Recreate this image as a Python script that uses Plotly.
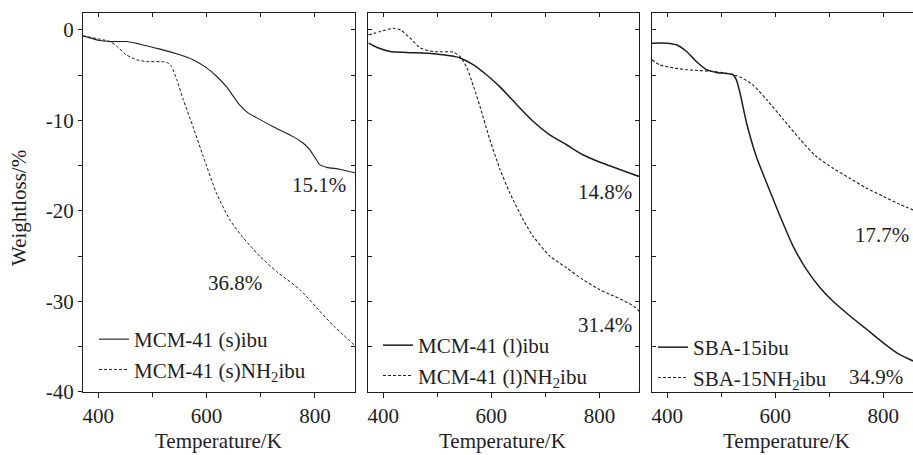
import plotly.graph_objects as go

# ---------------- data ----------------
p1_ibu_T = [372, 403, 421, 452, 477, 514, 551, 575, 600, 618, 637, 661, 677, 692, 723, 760, 778, 790, 800, 809, 822, 846, 874]
p1_ibu_W = [-0.66, -1.18, -1.29, -1.29, -1.58, -2.13, -2.76, -3.3, -4.2, -5.1, -6.3, -8.3, -9.2, -9.7, -10.7, -11.8, -12.5, -13.2, -14.1, -14.9, -15.2, -15.4, -15.8]
p1_nh2_T = [372, 403, 422, 435, 452, 471, 489, 526, 535, 545, 557, 575, 594, 618, 643, 668, 698, 729, 772, 809, 834, 874]
p1_nh2_W = [-0.66, -1.03, -1.29, -1.84, -2.76, -3.3, -3.5, -3.57, -4.0, -5.5, -7.7, -10.7, -14.0, -18.0, -21.0, -23.0, -25.0, -26.7, -28.7, -31.1, -32.7, -34.9]

p2_ibu_T = [373, 389, 413, 444, 493, 524, 542, 567, 591, 616, 647, 677, 708, 739, 769, 800, 873]
p2_ibu_W = [-1.47, -1.95, -2.39, -2.5, -2.65, -2.87, -3.1, -3.86, -4.96, -6.3, -8.27, -10.1, -11.6, -12.7, -13.8, -14.6, -16.2]
p2_nh2_T = [373, 395, 420, 432, 450, 469, 493, 530, 542, 555, 567, 579, 597, 616, 634, 659, 677, 708, 739, 769, 800, 873, 873.5]
p2_nh2_W = [-0.55, -0.18, 0.18, 0.0, -0.92, -2.0, -2.4, -2.46, -2.94, -4.2, -6.25, -8.46, -12.1, -15.4, -18.0, -21.0, -22.8, -25.0, -26.3, -27.6, -28.7, -31.1, -40.0]

p3_ibu_T = [372, 399, 417, 436, 454, 473, 491, 522, 528, 535, 547, 565, 584, 609, 633, 658, 683, 707, 738, 769, 800, 825, 855]
p3_ibu_W = [-1.47, -1.47, -1.65, -2.39, -3.5, -4.4, -4.7, -4.96, -5.5, -7.0, -10.3, -14.0, -16.9, -20.6, -23.9, -26.5, -28.5, -30.0, -31.6, -33.1, -34.6, -35.7, -36.6]
p3_nh2_T = [372, 386, 411, 436, 460, 485, 510, 535, 559, 584, 615, 646, 676, 707, 738, 769, 800, 831, 855]
p3_nh2_W = [-3.3, -3.86, -4.2, -4.4, -4.5, -4.6, -4.8, -5.2, -6.1, -7.7, -9.9, -12.1, -14.0, -15.3, -16.4, -17.5, -18.4, -19.3, -19.9]

names = ["MCM-41 (s)ibu", "MCM-41 (s)NH<sub>2</sub>ibu",
         "MCM-41 (l)ibu", "MCM-41 (l)NH<sub>2</sub>ibu",
         "SBA-15ibu", "SBA-15NH<sub>2</sub>ibu"]

x_tickvals = [400, 600, 800]
x_ticktext = ["400", "600", "800"]
y_tickvals = [0, -10, -20, -30, -40]
y_ticktext = ["0", "-10", "-20", "-30", "-40"]

labels = ["15.1%", "36.8%", "14.8%", "31.4%", "17.7%", "34.9%"]
label_T = [808, 652, 811, 811, 852, 840]
label_W = [-17.1, -28.0, -17.9, -32.6, -22.7, -38.4]

# ---------------- style ----------------
FONT = "Liberation Serif, Times New Roman, serif"
INK = "#1e1e1e"
FS = 21
W, H = 913, 455

x_ranges = [[372, 874], [372, 873], [372, 855]]
y_range = [-40, 1.9]
x_domains = [[83 / W, 355 / W], [368 / W, 639 / W], [652 / W, 1.0]]
y_domain = [1 - 391.7 / H, 1 - 12.7 / H]

fig = go.Figure()

series = [
    (p1_ibu_T, p1_ibu_W, "solid", 1.1, 0),
    (p1_nh2_T, p1_nh2_W, "3px,2px", 1.0, 0),
    (p2_ibu_T, p2_ibu_W, "solid", 1.5, 1),
    (p2_nh2_T, p2_nh2_W, "3px,2px", 1.1, 1),
    (p3_ibu_T, p3_ibu_W, "solid", 1.5, 2),
    (p3_nh2_T, p3_nh2_W, "3px,2px", 1.1, 2),
]
legends = ["legend", "legend2", "legend3"]
for k, (T, Wt, dash, lw, p) in enumerate(series):
    ax = "" if p == 0 else str(p + 1)
    fig.add_trace(go.Scatter(
        x=T, y=Wt, mode="lines", name=names[k],
        line=dict(color=INK, width=lw, dash=dash, shape="spline", smoothing=0.6),
        xaxis="x" + ax, yaxis="y" + ax, legend=legends[p],
    ))

layout = dict(
    width=W, height=H,
    margin=dict(l=0, r=0, t=0, b=0, pad=0, autoexpand=False),
    paper_bgcolor="white", plot_bgcolor="white",
    font=dict(family=FONT, size=FS, color=INK),
    showlegend=True,
)

minor_x = dict(tickmode="linear", tick0=0, dtick=100, ticklen=4, tickcolor=INK, tickwidth=1)
minor_y = dict(tickmode="linear", tick0=0, dtick=5, ticklen=4, tickcolor=INK, tickwidth=1)

for p in range(3):
    ax = "" if p == 0 else str(p + 1)
    key = "" if p == 0 else str(p + 1)
    layout["xaxis" + key] = dict(
        domain=x_domains[p], range=x_ranges[p], anchor="y" + ax, automargin=False,
        showgrid=False, zeroline=False, showline=True, linecolor=INK, linewidth=1.3,
        ticks="outside", ticklen=5, tickcolor=INK,
        tickmode="array", tickvals=x_tickvals, ticktext=x_ticktext,
        minor=dict(ticks="outside", **minor_x),
        tickfont=dict(size=FS), fixedrange=True,
    )
    layout["yaxis" + key] = dict(
        domain=y_domain, range=y_range, anchor="x" + ax, automargin=False,
        showgrid=False, zeroline=False, showline=True, linecolor=INK, linewidth=1.3,
        ticks="outside" if p == 0 else "inside", ticklen=4, tickcolor=INK,
        tickmode="array", tickvals=y_tickvals, ticktext=y_ticktext,
        showticklabels=(p == 0),
        minor=dict(ticks="outside" if p == 0 else "inside", **minor_y),
        tickfont=dict(size=FS), fixedrange=True,
    )
    # top mirror axis (inside ticks)
    tk = str(p + 4)
    layout["xaxis" + tk] = dict(
        overlaying="x" + ax, side="top", anchor="y" + ax, matches="x" + ax, automargin=False,
        range=x_ranges[p], showgrid=False, zeroline=False, showline=True,
        linecolor=INK, linewidth=1.3, ticks="inside", ticklen=4, tickcolor=INK,
        tickmode="array", tickvals=x_tickvals, showticklabels=False,
        minor=dict(ticks="inside", **minor_x), fixedrange=True,
    )
    if p < 2:
        layout["yaxis" + tk] = dict(
            overlaying="y" + ax, side="right", anchor="x" + ax, matches="y" + ax, automargin=False,
            range=y_range, showgrid=False, zeroline=False, showline=True,
            linecolor=INK, linewidth=1.3, ticks="inside", ticklen=4, tickcolor=INK,
            tickmode="array", tickvals=y_tickvals, showticklabels=False,
            minor=dict(ticks="inside", **minor_y), fixedrange=True,
        )

# helper traces so the mirror axes get drawn
for p in range(3):
    tk = str(p + 4)
    ax = "" if p == 0 else str(p + 1)
    fig.add_trace(go.Scatter(x=[None], y=[None], xaxis="x" + tk,
                             yaxis=("y" + tk) if p < 2 else ("y" + ax),
                             showlegend=False, hoverinfo="skip"))

leg_common = dict(bgcolor="rgba(0,0,0,0)", borderwidth=0, font=dict(size=FS, family=FONT, color=INK),
                  itemwidth=30, tracegroupgap=0, xanchor="left", yanchor="top")
layout["legend"] = dict(x=94 / W, y=1 - 319 / H, **leg_common)
layout["legend2"] = dict(x=378 / W, y=1 - 325 / H, **leg_common)
layout["legend3"] = dict(x=653 / W, y=1 - 327 / H, **leg_common)

fig.update_layout(**layout)

# percentage labels
label_axes = ["", "", "2", "2", "3", "3"]
label_anchor = ["center", "center", "center", "center", "right", "right"]
for t, xv, yv, a, xa in zip(labels, label_T, label_W, label_axes, label_anchor):
    fig.add_annotation(text=t, x=xv, y=yv, xref="x" + a, yref="y" + a,
                       showarrow=False, xanchor=xa, yanchor="middle",
                       font=dict(size=FS, family=FONT, color=INK))

# axis titles
fig.add_annotation(text="Weightloss/%", x=19 / W, y=1 - 208 / H, xref="paper", yref="paper",
                   textangle=-90, showarrow=False, xanchor="center", yanchor="middle",
                   font=dict(size=FS, family=FONT, color=INK))
for cx in [218, 502, 786]:
    fig.add_annotation(text="Temperature/K", x=cx / W, y=1 - 441 / H, xref="paper", yref="paper",
                       showarrow=False, xanchor="center", yanchor="middle",
                       font=dict(size=FS, family=FONT, color=INK))

fig.write_html("out.html", config={"displayModeBar": False},
               post_script="document.body.style.margin='0';document.body.style.overflow='hidden';")
